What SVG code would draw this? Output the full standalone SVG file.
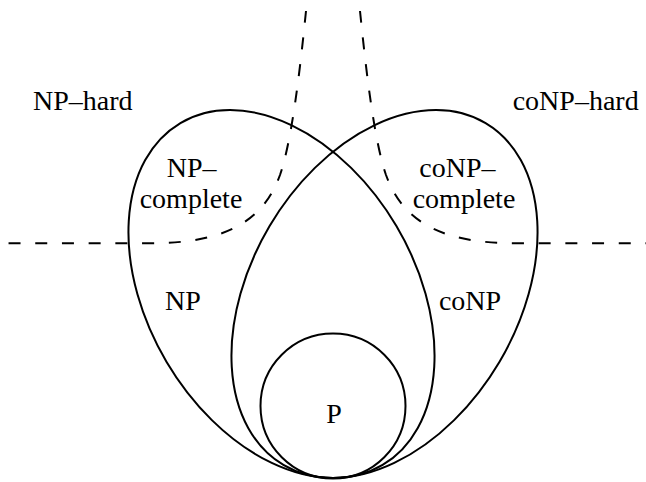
<svg xmlns="http://www.w3.org/2000/svg" width="646" height="482" viewBox="0 0 646 482">
<style>
.set{fill:none;stroke:#000;stroke-width:2}
.dash{fill:none;stroke:#000;stroke-width:2;stroke-dasharray:12 14.7}
text{font-family:"Liberation Serif","Times New Roman",serif;font-size:28px;fill:#000}
.m{text-anchor:middle}
</style>
<rect width="646" height="482" fill="#fff"/>
<g id="connectors">
<path class="dash" d="M306,11 C300,70 292,140 280,175 C265,215 235,243.3 150,243.3 L0,243.3"/>
<path class="dash" d="M360,11 C366,70 374,140 386,175 C401,215 431,243.3 516,243.3 L666,243.3"/>
</g>
<g id="NP">
<ellipse class="set" cx="281.5" cy="294" rx="198.6" ry="133.5" transform="rotate(59.4 281.5 294)"/>
<text x="183" y="310" class="m">NP</text>
</g>
<g id="coNP">
<ellipse class="set" cx="384.5" cy="294" rx="198.6" ry="133.5" transform="rotate(-59.4 384.5 294)"/>
<text x="470" y="310" class="m">coNP</text>
</g>
<g id="P">
<circle class="set" cx="333" cy="406" r="72.5"/>
<text x="334" y="423" class="m">P</text>
</g>
<g id="NP-complete">
<text x="191.7" y="177" class="m">NP–</text>
<text x="191" y="208" class="m">complete</text>
</g>
<g id="coNP-complete">
<text x="419.3" y="177">coNP–</text>
<text x="412.7" y="208">complete</text>
</g>
<g id="NP-hard">
<text x="33" y="110">NP–hard</text>
</g>
<g id="coNP-hard">
<text x="512.7" y="110">coNP–hard</text>
</g>
</svg>
